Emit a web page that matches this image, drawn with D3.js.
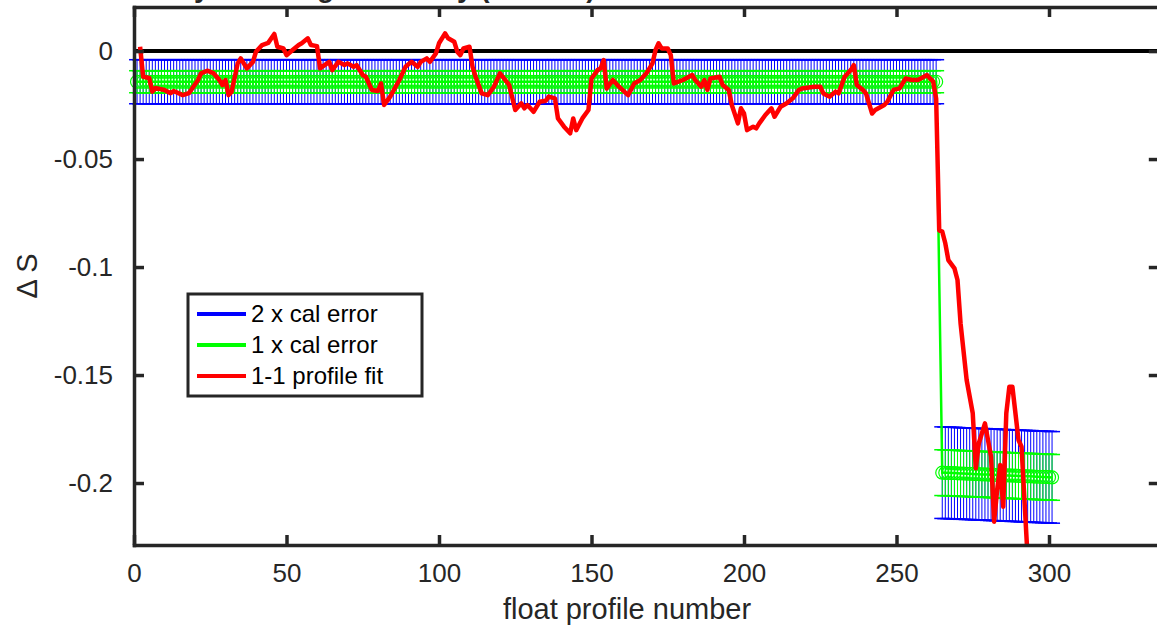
<!DOCTYPE html>
<html>
<head>
<meta charset="utf-8">
<script src="https://cdn.jsdelivr.net/npm/d3@7"></script>
<style>
  body { margin: 0; background: #fff; }
  text { font-family: "Liberation Sans", Arial, Helvetica, sans-serif; }
</style>
</head>
<body>
<svg id="chart"></svg>
<script>
// ---- chart data ----
var titleText = 'Salinity offset against early (PSS-78)'
var xLabel = 'float profile number'
var yLabel = '\u0394 S'
var seriesNames = ['2 x cal error', '1 x cal error', '1-1 profile fit']
var xTicks = [0, 50, 100, 150, 200, 250, 300]
var yTicks = [-0.2, -0.15, -0.1, -0.05, 0]
var yTickLabels = ['-0.2', '-0.15', '-0.1', '-0.05', '0']

// calibration: profile number, offset and 1 sigma error
var calProfile = [
  1,2,3,4,5,6,7,8,9,10,11,12,13,14,15,16,17,18,19,20,
  21,22,23,24,25,26,27,28,29,30,31,32,33,34,35,36,37,38,39,40,
  41,42,43,44,45,46,47,48,49,50,51,52,53,54,55,56,57,58,59,60,
  61,62,63,64,65,66,67,68,69,70,71,72,73,74,75,76,77,78,79,80,
  81,82,83,84,85,86,87,88,89,90,91,92,93,94,95,96,97,98,99,100,
  101,102,103,104,105,106,107,108,109,110,111,112,113,114,115,116,117,118,119,120,
  121,122,123,124,125,126,127,128,129,130,131,132,133,134,135,136,137,138,139,140,
  141,142,143,144,145,146,147,148,149,150,151,152,153,154,155,156,157,158,159,160,
  161,162,163,164,165,166,167,168,169,170,171,172,173,174,175,176,177,178,179,180,
  181,182,183,184,185,186,187,188,189,190,191,192,193,194,195,196,197,198,199,200,
  201,202,203,204,205,206,207,208,209,210,211,212,213,214,215,216,217,218,219,220,
  221,222,223,224,225,226,227,228,229,230,231,232,233,234,235,236,237,238,239,240,
  241,242,243,244,245,246,247,248,249,250,251,252,253,254,255,256,257,258,259,260,
  261,262,263,
  265,266,267,268,269,270,271,272,273,274,275,276,277,278,279,280,
  281,282,283,284,285,286,287,288,289,290,291,292,293,294,295,296,297,298,299,300,
  301
]
var calOffset = [
  -0.0142,-0.0142,-0.0142,-0.0142,-0.0142,-0.0142,-0.0142,-0.0142,-0.0142,-0.0142,-0.0142,-0.0142,-0.0142,-0.0142,-0.0142,-0.0142,-0.0142,-0.0142,-0.0142,-0.0142,
  -0.0142,-0.0142,-0.0142,-0.0142,-0.0142,-0.0142,-0.0142,-0.0142,-0.0142,-0.0142,-0.0142,-0.0142,-0.0142,-0.0142,-0.0142,-0.0142,-0.0142,-0.0142,-0.0142,-0.0142,
  -0.0142,-0.0142,-0.0142,-0.0142,-0.0142,-0.0142,-0.0142,-0.0142,-0.0142,-0.0142,-0.0142,-0.0142,-0.0142,-0.0142,-0.0142,-0.0142,-0.0142,-0.0142,-0.0142,-0.0142,
  -0.0142,-0.0142,-0.0142,-0.0142,-0.0142,-0.0142,-0.0142,-0.0142,-0.0142,-0.0142,-0.0142,-0.0142,-0.0142,-0.0142,-0.0142,-0.0142,-0.0142,-0.0142,-0.0142,-0.0142,
  -0.0142,-0.0142,-0.0142,-0.0142,-0.0142,-0.0142,-0.0142,-0.0142,-0.0142,-0.0142,-0.0142,-0.0142,-0.0142,-0.0142,-0.0142,-0.0142,-0.0142,-0.0142,-0.0142,-0.0142,
  -0.0142,-0.0142,-0.0142,-0.0142,-0.0142,-0.0142,-0.0142,-0.0142,-0.0142,-0.0142,-0.0142,-0.0142,-0.0142,-0.0142,-0.0142,-0.0142,-0.0142,-0.0142,-0.0142,-0.0142,
  -0.0142,-0.0142,-0.0142,-0.0142,-0.0142,-0.0142,-0.0142,-0.0142,-0.0142,-0.0142,-0.0142,-0.0142,-0.0142,-0.0142,-0.0142,-0.0142,-0.0142,-0.0142,-0.0142,-0.0142,
  -0.0142,-0.0142,-0.0142,-0.0142,-0.0142,-0.0142,-0.0142,-0.0142,-0.0142,-0.0142,-0.0142,-0.0142,-0.0142,-0.0142,-0.0142,-0.0142,-0.0142,-0.0142,-0.0142,-0.0142,
  -0.0142,-0.0142,-0.0142,-0.0142,-0.0142,-0.0142,-0.0142,-0.0142,-0.0142,-0.0142,-0.0142,-0.0142,-0.0142,-0.0142,-0.0142,-0.0142,-0.0142,-0.0142,-0.0142,-0.0142,
  -0.0142,-0.0142,-0.0142,-0.0142,-0.0142,-0.0142,-0.0142,-0.0142,-0.0142,-0.0142,-0.0142,-0.0142,-0.0142,-0.0142,-0.0142,-0.0142,-0.0142,-0.0142,-0.0142,-0.0142,
  -0.0142,-0.0142,-0.0142,-0.0142,-0.0142,-0.0142,-0.0142,-0.0142,-0.0142,-0.0142,-0.0142,-0.0142,-0.0142,-0.0142,-0.0142,-0.0142,-0.0142,-0.0142,-0.0142,-0.0142,
  -0.0142,-0.0142,-0.0142,-0.0142,-0.0142,-0.0142,-0.0142,-0.0142,-0.0142,-0.0142,-0.0142,-0.0142,-0.0142,-0.0142,-0.0142,-0.0142,-0.0142,-0.0142,-0.0142,-0.0142,
  -0.0142,-0.0142,-0.0142,-0.0142,-0.0142,-0.0142,-0.0142,-0.0142,-0.0142,-0.0142,-0.0142,-0.0142,-0.0142,-0.0142,-0.0142,-0.0142,-0.0142,-0.0142,-0.0142,-0.0142,
  -0.0142,-0.0142,-0.0142,
  -0.1952,-0.1953,-0.1953,-0.1954,-0.1954,-0.1955,-0.1956,-0.1956,-0.1957,-0.1957,-0.1958,-0.1959,-0.1959,-0.196,-0.196,-0.1961,
  -0.1962,-0.1962,-0.1963,-0.1963,-0.1964,-0.1965,-0.1965,-0.1966,-0.1966,-0.1967,-0.1968,-0.1968,-0.1969,-0.1969,-0.197,-0.1971,-0.1971,-0.1972,-0.1972,-0.1973,
  -0.1974
]
var calError = [
  0.0051,0.0051,0.0051,0.0051,0.0051,0.0051,0.0051,0.0051,0.0051,0.0051,0.0051,0.0051,0.0051,0.0051,0.0051,0.0051,0.0051,0.0051,0.0051,0.0051,
  0.0051,0.0051,0.0051,0.0051,0.0051,0.0051,0.0051,0.0051,0.0051,0.0051,0.0051,0.0051,0.0051,0.0051,0.0051,0.0051,0.0051,0.0051,0.0051,0.0051,
  0.0051,0.0051,0.0051,0.0051,0.0051,0.0051,0.0051,0.0051,0.0051,0.0051,0.0051,0.0051,0.0051,0.0051,0.0051,0.0051,0.0051,0.0051,0.0051,0.0051,
  0.0051,0.0051,0.0051,0.0051,0.0051,0.0051,0.0051,0.0051,0.0051,0.0051,0.0051,0.0051,0.0051,0.0051,0.0051,0.0051,0.0051,0.0051,0.0051,0.0051,
  0.0051,0.0051,0.0051,0.0051,0.0051,0.0051,0.0051,0.0051,0.0051,0.0051,0.0051,0.0051,0.0051,0.0051,0.0051,0.0051,0.0051,0.0051,0.0051,0.0051,
  0.0051,0.0051,0.0051,0.0051,0.0051,0.0051,0.0051,0.0051,0.0051,0.0051,0.0051,0.0051,0.0051,0.0051,0.0051,0.0051,0.0051,0.0051,0.0051,0.0051,
  0.0051,0.0051,0.0051,0.0051,0.0051,0.0051,0.0051,0.0051,0.0051,0.0051,0.0051,0.0051,0.0051,0.0051,0.0051,0.0051,0.0051,0.0051,0.0051,0.0051,
  0.0051,0.0051,0.0051,0.0051,0.0051,0.0051,0.0051,0.0051,0.0051,0.0051,0.0051,0.0051,0.0051,0.0051,0.0051,0.0051,0.0051,0.0051,0.0051,0.0051,
  0.0051,0.0051,0.0051,0.0051,0.0051,0.0051,0.0051,0.0051,0.0051,0.0051,0.0051,0.0051,0.0051,0.0051,0.0051,0.0051,0.0051,0.0051,0.0051,0.0051,
  0.0051,0.0051,0.0051,0.0051,0.0051,0.0051,0.0051,0.0051,0.0051,0.0051,0.0051,0.0051,0.0051,0.0051,0.0051,0.0051,0.0051,0.0051,0.0051,0.0051,
  0.0051,0.0051,0.0051,0.0051,0.0051,0.0051,0.0051,0.0051,0.0051,0.0051,0.0051,0.0051,0.0051,0.0051,0.0051,0.0051,0.0051,0.0051,0.0051,0.0051,
  0.0051,0.0051,0.0051,0.0051,0.0051,0.0051,0.0051,0.0051,0.0051,0.0051,0.0051,0.0051,0.0051,0.0051,0.0051,0.0051,0.0051,0.0051,0.0051,0.0051,
  0.0051,0.0051,0.0051,0.0051,0.0051,0.0051,0.0051,0.0051,0.0051,0.0051,0.0051,0.0051,0.0051,0.0051,0.0051,0.0051,0.0051,0.0051,0.0051,0.0051,
  0.0051,0.0051,0.0051,
  0.0106,0.0106,0.0106,0.0106,0.0106,0.0106,0.0106,0.0106,0.0106,0.0106,0.0106,0.0106,0.0106,0.0106,0.0106,0.0106,
  0.0106,0.0106,0.0106,0.0106,0.0106,0.0106,0.0106,0.0106,0.0106,0.0106,0.0106,0.0106,0.0106,0.0106,0.0106,0.0106,0.0106,0.0106,0.0106,0.0106,
  0.0106
]

// 1-1 profile fit
var fitProfile = [
  2,3,5,6,7,10,12,13,16,18,21,22,24,26,28,29,30,31,32,34,35,37,39,40,42,44,46,47,49,50,
  52,54,55,57,58,60,61,64,65,67,69,70,72,73,75,76,78,80,81,82,84,87,89,91,93,94,96,97,99,100,
  102,103,105,106,107,108,110,111,112,114,116,118,120,123,125,127,128,129,131,133,135,136,138,139,141,143,144,145,147,149,
  150,152,153,154,155,157,159,162,164,166,168,170,171,172,173,175,176,177,180,183,184,186,187,188,189,192,193,195,196,198,
  199,200,201,203,204,205,207,209,210,212,214,216,218,219,223,225,226,228,230,231,233,235,236,237,239,240,242,243,246,247,
  249,251,253,255,257,259,260,261,262,263,264,265,266,267,269,270,271,273,275,276,277,279,281,282,283,284,285,286,287,288,
  290,291,293
]
var fitValue = [
  0.002,-0.0119,-0.0125,-0.0188,-0.0171,-0.018,-0.0195,-0.0185,-0.0204,-0.0195,-0.0134,-0.0103,-0.0091,-0.0102,-0.0134,-0.0157,-0.0134,-0.0204,-0.0188,-0.0057,-0.0034,-0.008,-0.005,-0.0003,0.0028,0.0038,0.0079,0.002,0.0012,-0.0019,
  0.0005,0.0028,0.0036,0.0059,0.0028,0.0023,-0.008,-0.005,-0.0088,-0.005,-0.0065,-0.0057,-0.0073,-0.0065,-0.0111,-0.0119,-0.018,-0.0185,-0.015,-0.025,-0.0211,-0.0134,-0.0073,-0.005,-0.0073,-0.005,-0.0034,-0.005,-0.0011,0.0036,
  0.0082,0.0059,0.0043,-0.0003,-0.0019,0.0012,0.002,-0.0073,-0.0119,-0.0196,-0.0204,-0.0165,-0.0103,-0.0157,-0.0273,-0.0242,-0.0265,-0.025,-0.0281,-0.0235,-0.023,-0.0211,-0.0219,-0.0312,-0.035,-0.0381,-0.0312,-0.0366,-0.0312,-0.0273,
  -0.0127,-0.0088,-0.008,-0.0042,-0.0173,-0.0134,-0.0165,-0.0204,-0.015,-0.0134,-0.0103,-0.0057,0.0005,0.0036,0.0012,0.0012,-0.0019,-0.015,-0.0134,-0.0111,-0.0134,-0.0165,-0.0134,-0.018,-0.0127,-0.0119,-0.0157,-0.018,-0.025,-0.0335,
  -0.0265,-0.0289,-0.0366,-0.035,-0.0358,-0.0335,-0.0296,-0.0265,-0.0304,-0.0258,-0.0242,-0.0219,-0.018,-0.0173,-0.0165,-0.0165,-0.0196,-0.0211,-0.0188,-0.0196,-0.0119,-0.0088,-0.0065,-0.0157,-0.018,-0.0196,-0.0289,-0.0273,-0.025,-0.0235,
  -0.018,-0.0173,-0.0127,-0.0134,-0.0134,-0.0119,-0.0111,-0.0127,-0.014,-0.022,-0.083,-0.0836,-0.089,-0.0968,-0.1006,-0.106,-0.126,-0.1523,-0.1677,-0.1932,-0.1816,-0.1724,-0.1878,-0.2179,-0.2032,-0.1917,-0.211,-0.1677,-0.1554,-0.1554,
  -0.1801,-0.1832,-0.235
]

var BLUE = '#0000ff', GREEN = '#00ff00', RED = '#ff0000', AXIS = '#262626'

drawChart()

function drawChart() {
    var svgWidth = 1157, svgHeight = 628
    var plotLeft = 134, plotTop = 7, plotBottom = 545
    var svg = d3.select('#chart')
        .attr('width', svgWidth)
        .attr('height', svgHeight)

    var x = d3.scaleLinear().domain([0, 336]).range([plotLeft, plotLeft + 336 * 3.05])
    var y = d3.scaleLinear().domain([-0.2287, 0.0204]).range([plotBottom, plotTop])
    var plotRight = x.range()[1]

    svg.append('defs').append('clipPath').attr('id', 'plotclip')
        .append('rect')
        .attr('x', plotLeft).attr('y', plotTop)
        .attr('width', plotRight - plotLeft).attr('height', plotBottom - plotTop)

    // title (cut off at the top of the figure, as in the original)
    svg.append('text')
        .attr('x', 110).attr('y', -3)
        .attr('font-size', 28).attr('font-weight', 'bold')
        .attr('fill', AXIS)
        .text(titleText)

    // zero reference line
    svg.append('line')
        .attr('x1', x(0)).attr('x2', plotRight)
        .attr('y1', y(0)).attr('y2', y(0))
        .attr('stroke', '#000').attr('stroke-width', 4)

    var cap = 8
    // error bars: 2 x and 1 x cal error
    function errorBars(mult, colour) {
        var g = svg.append('g')
        calProfile.forEach(function(p, i) {
            var lo = y(calOffset[i] - mult * calError[i])
            var hi = y(calOffset[i] + mult * calError[i])
            var px = x(p)
            g.append('line').attr('x1', px).attr('x2', px).attr('y1', lo).attr('y2', hi)
                .attr('stroke', colour).attr('stroke-width', 1)
            g.append('line').attr('x1', px - cap).attr('x2', px + cap).attr('y1', lo).attr('y2', lo)
                .attr('stroke', colour).attr('stroke-width', 1.5)
            g.append('line').attr('x1', px - cap).attr('x2', px + cap).attr('y1', hi).attr('y2', hi)
                .attr('stroke', colour).attr('stroke-width', 1.5)
        })
        return g
    }
    errorBars(2, BLUE)
    var gGreen = errorBars(1, GREEN)

    var calLine = d3.line()
        .x(function(d, i) { return x(calProfile[i]) })
        .y(function(d, i) { return y(calOffset[i]) })
    gGreen.append('path')
        .datum(calOffset)
        .attr('fill', 'none')
        .attr('stroke', GREEN)
        .attr('stroke-width', 2.5)
        .attr('d', calLine)
    gGreen.selectAll('circle')
        .data(calOffset)
        .enter().append('circle')
        .attr('cx', function(d, i) { return x(calProfile[i]) })
        .attr('cy', function(d) { return y(d) })
        .attr('r', 6.5)
        .attr('fill', 'none')
        .attr('stroke', GREEN)
        .attr('stroke-width', 1.2)

    // 1-1 profile fit
    var fitLine = d3.line()
        .x(function(d, i) { return x(fitProfile[i]) })
        .y(function(d) { return y(d) })
    svg.append('path')
        .datum(fitValue)
        .attr('clip-path', 'url(#plotclip)')
        .attr('fill', 'none')
        .attr('stroke', RED)
        .attr('stroke-width', 4.5)
        .attr('stroke-linejoin', 'round')
        .attr('d', fitLine)

    // axes, ticks pointing inward on all four sides
    function styleAxis(g) {
        g.selectAll('path, line').attr('stroke', AXIS).attr('stroke-width', 3.5)
        g.select('path').attr('stroke-linecap', 'square')
        g.selectAll('text').attr('fill', AXIS).attr('font-size', 26)
            .attr('font-family', '"Liberation Sans", Arial, sans-serif')
        g.attr('font-family', null).attr('font-size', null)
    }
    svg.append('g')
        .attr('transform', 'translate(0,' + plotBottom + ')')
        .call(d3.axisBottom(x).tickValues(xTicks).tickSizeInner(-10).tickSizeOuter(0).tickPadding(19))
        .call(styleAxis)
    svg.append('g')
        .attr('transform', 'translate(0,' + plotTop + ')')
        .call(d3.axisTop(x).tickValues(xTicks).tickFormat('').tickSizeInner(-10).tickSizeOuter(0))
        .call(styleAxis)
    svg.append('g')
        .attr('transform', 'translate(' + plotLeft + ',0)')
        .call(d3.axisLeft(y).tickValues(yTicks)
            .tickFormat(function(d, i) { return yTickLabels[i] })
            .tickSizeInner(-10).tickSizeOuter(0).tickPadding(21))
        .call(styleAxis)
    svg.append('g')
        .attr('transform', 'translate(' + plotRight + ',0)')
        .call(d3.axisRight(y).tickValues(yTicks).tickFormat('').tickSizeInner(-10).tickSizeOuter(0))
        .call(styleAxis)

    // axis labels
    svg.append('text')
        .attr('x', 627).attr('y', 619)
        .attr('text-anchor', 'middle')
        .attr('font-size', 29).attr('fill', AXIS)
        .text(xLabel)
    svg.append('text')
        .attr('transform', 'translate(37,' + ((plotTop + plotBottom) / 2) + ') rotate(-90)')
        .attr('text-anchor', 'middle')
        .attr('font-size', 29).attr('fill', AXIS)
        .text(yLabel)

    // legend
    var legend = svg.append('g')
    legend.append('rect')
        .attr('x', 188).attr('y', 294).attr('width', 234).attr('height', 102)
        .attr('fill', '#fff').attr('stroke', AXIS).attr('stroke-width', 3)
    var legendColours = [BLUE, GREEN, RED]
    seriesNames.forEach(function(name, i) {
        var ly = 314 + i * 31
        legend.append('line')
            .attr('x1', 197).attr('x2', 246).attr('y1', ly).attr('y2', ly)
            .attr('stroke', legendColours[i]).attr('stroke-width', 4)
        legend.append('text')
            .attr('x', 251).attr('y', ly + 8)
            .attr('font-size', 24).attr('fill', '#000')
            .text(name)
    })
}
</script>
</body>
</html>
